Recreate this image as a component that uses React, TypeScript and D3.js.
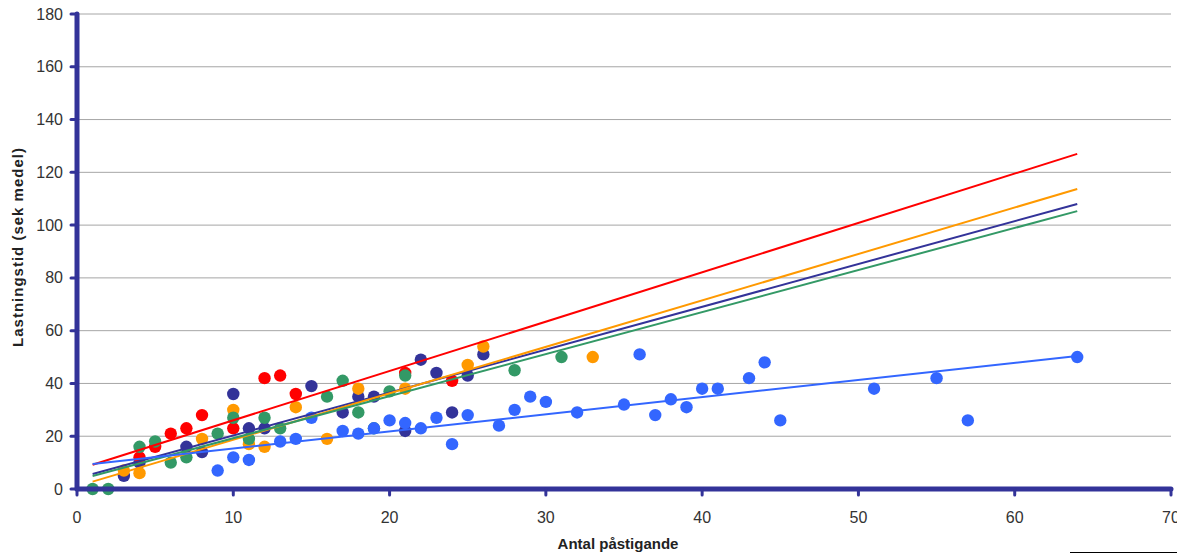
import { useEffect, useRef } from "react";
import * as d3 from "d3";

// scatter points per series, [antal påstigande, sek]
const navyPts: [number, number][] = [
  [3, 5], [4, 10], [7, 16], [8, 14], [10, 36], [11, 23], [12, 23], [15, 39],
  [17, 29], [18, 35], [19, 35], [21, 22], [22, 49], [23, 44], [24, 29], [25, 43], [26, 51],
];
const redPts: [number, number][] = [
  [4, 12], [5, 16], [6, 21], [7, 23], [8, 28], [10, 23], [12, 42], [13, 43],
  [14, 36], [21, 44], [24, 41],
];
const orangePts: [number, number][] = [
  [3, 7], [4, 6], [8, 19], [10, 30], [11, 17], [12, 16], [14, 31], [16, 19],
  [18, 38], [21, 38], [25, 47], [26, 54], [33, 50],
];
const greenPts: [number, number][] = [
  [1, 0], [2, 0], [4, 16], [5, 18], [6, 10], [7, 12], [9, 21], [10, 27], [11, 19],
  [12, 27], [13, 23], [16, 35], [17, 41], [18, 29], [19, 23], [20, 37], [21, 43],
  [28, 45], [31, 50],
];
const bluePts: [number, number][] = [
  [9, 7], [10, 12], [11, 11], [13, 18], [14, 19], [15, 27], [17, 22], [18, 21],
  [19, 23], [20, 26], [21, 25], [22, 23], [23, 27], [24, 17], [25, 28], [27, 24],
  [28, 30], [29, 35], [30, 33], [32, 29], [35, 32], [36, 51], [37, 28], [38, 34],
  [39, 31], [40, 38], [41, 38], [43, 42], [44, 48], [45, 26], [51, 38], [55, 42],
  [57, 26], [64, 50],
];

// linear trendlines, value at x=1 and x=64
const trendX = [1, 64];
const navyTrend = [5.7, 108];
const redTrend = [9.2, 127];
const orangeTrend = [2.8, 113.7];
const greenTrend = [4.9, 105.3];
const blueTrend = [9.5, 50.4];

const xTicks = [0, 10, 20, 30, 40, 50, 60, 70];
const yTicks = [0, 20, 40, 60, 80, 100, 120, 140, 160, 180];

const series = [
  { pts: navyPts, trend: navyTrend, color: "#333399" },
  { pts: redPts, trend: redTrend, color: "#ff0000" },
  { pts: orangePts, trend: orangeTrend, color: "#ff9900" },
  { pts: greenPts, trend: greenTrend, color: "#339966" },
  { pts: bluePts, trend: blueTrend, color: "#3366ff" },
];

const App = () => {
  const svgRef = useRef<SVGSVGElement>(null);

  useEffect(() => {
    const svg = d3.select(svgRef.current);
    svg.selectAll("*").remove();

    const x = d3.scaleLinear().domain([0, 70]).range([77, 1171]);
    const y = d3.scaleLinear().domain([0, 180]).range([489, 14]);
    const font = "Arial, 'Liberation Sans', sans-serif";

    // gridlines
    svg
      .append("g")
      .selectAll("line")
      .data(yTicks.slice(1))
      .enter()
      .append("line")
      .attr("x1", x(0))
      .attr("x2", x(70))
      .attr("y1", (d) => y(d))
      .attr("y2", (d) => y(d))
      .attr("stroke", "#a6a6a6")
      .attr("stroke-width", 1);

    // points
    series.forEach((s) => {
      svg
        .append("g")
        .selectAll("circle")
        .data(s.pts)
        .enter()
        .append("circle")
        .attr("cx", (d) => x(d[0]))
        .attr("cy", (d) => y(d[1]))
        .attr("r", 6.2)
        .attr("fill", s.color);
    });

    // trendlines
    series.forEach((s) => {
      svg
        .append("line")
        .attr("x1", x(trendX[0]))
        .attr("x2", x(trendX[1]))
        .attr("y1", y(s.trend[0]))
        .attr("y2", y(s.trend[1]))
        .attr("stroke", s.color)
        .attr("stroke-width", 2);
    });

    const axisColor = "#333399";

    // y axis
    svg
      .append("line")
      .attr("x1", x(0))
      .attr("x2", x(0))
      .attr("y1", y(180))
      .attr("y2", y(0))
      .attr("stroke", axisColor)
      .attr("stroke-width", 5)
      .attr("stroke-linecap", "round");
    svg
      .append("g")
      .selectAll("line")
      .data(yTicks)
      .enter()
      .append("line")
      .attr("x1", x(0) - 6)
      .attr("x2", x(0))
      .attr("y1", (d) => y(d))
      .attr("y2", (d) => y(d))
      .attr("stroke", axisColor)
      .attr("stroke-width", 3)
      .attr("stroke-linecap", "round");
    svg
      .append("g")
      .selectAll("text")
      .data(yTicks)
      .enter()
      .append("text")
      .attr("x", 63)
      .attr("y", (d) => y(d))
      .attr("dy", "0.35em")
      .attr("text-anchor", "end")
      .attr("font-family", font)
      .attr("font-size", 16)
      .attr("fill", "#333")
      .text((d) => d);

    // x axis
    svg
      .append("line")
      .attr("x1", x(0))
      .attr("x2", x(70))
      .attr("y1", y(0))
      .attr("y2", y(0))
      .attr("stroke", axisColor)
      .attr("stroke-width", 5)
      .attr("stroke-linecap", "round");
    svg
      .append("g")
      .selectAll("line")
      .data(xTicks)
      .enter()
      .append("line")
      .attr("x1", (d) => x(d))
      .attr("x2", (d) => x(d))
      .attr("y1", y(0))
      .attr("y2", y(0) + 6)
      .attr("stroke", axisColor)
      .attr("stroke-width", 3)
      .attr("stroke-linecap", "round");
    svg
      .append("g")
      .selectAll("text")
      .data(xTicks)
      .enter()
      .append("text")
      .attr("x", (d) => x(d))
      .attr("y", 517)
      .attr("dy", "0.35em")
      .attr("text-anchor", "middle")
      .attr("font-family", font)
      .attr("font-size", 16)
      .attr("fill", "#333")
      .text((d) => d);

    // axis titles
    svg
      .append("text")
      .attr("transform", "translate(23,247) rotate(-90)")
      .attr("text-anchor", "middle")
      .attr("font-family", font)
      .attr("font-size", 15)
      .attr("font-weight", "bold")
      .attr("letter-spacing", 1)
      .attr("fill", "#222")
      .text("Lastningstid (sek medel)");
    svg
      .append("text")
      .attr("x", 618)
      .attr("y", 549)
      .attr("text-anchor", "middle")
      .attr("font-family", font)
      .attr("font-size", 15)
      .attr("font-weight", "bold")
      .attr("fill", "#222")
      .text("Antal påstigande");

    // stray rule bottom right
    svg
      .append("line")
      .attr("x1", 1070)
      .attr("x2", 1177)
      .attr("y1", 552.5)
      .attr("y2", 552.5)
      .attr("stroke", "#000")
      .attr("stroke-width", 1);
  }, []);

  return (
    <svg
      ref={svgRef}
      width={1177}
      height={554}
      style={{ position: "absolute", left: 0, top: 0, background: "#fff" }}
    ></svg>
  );
};

export default App;
